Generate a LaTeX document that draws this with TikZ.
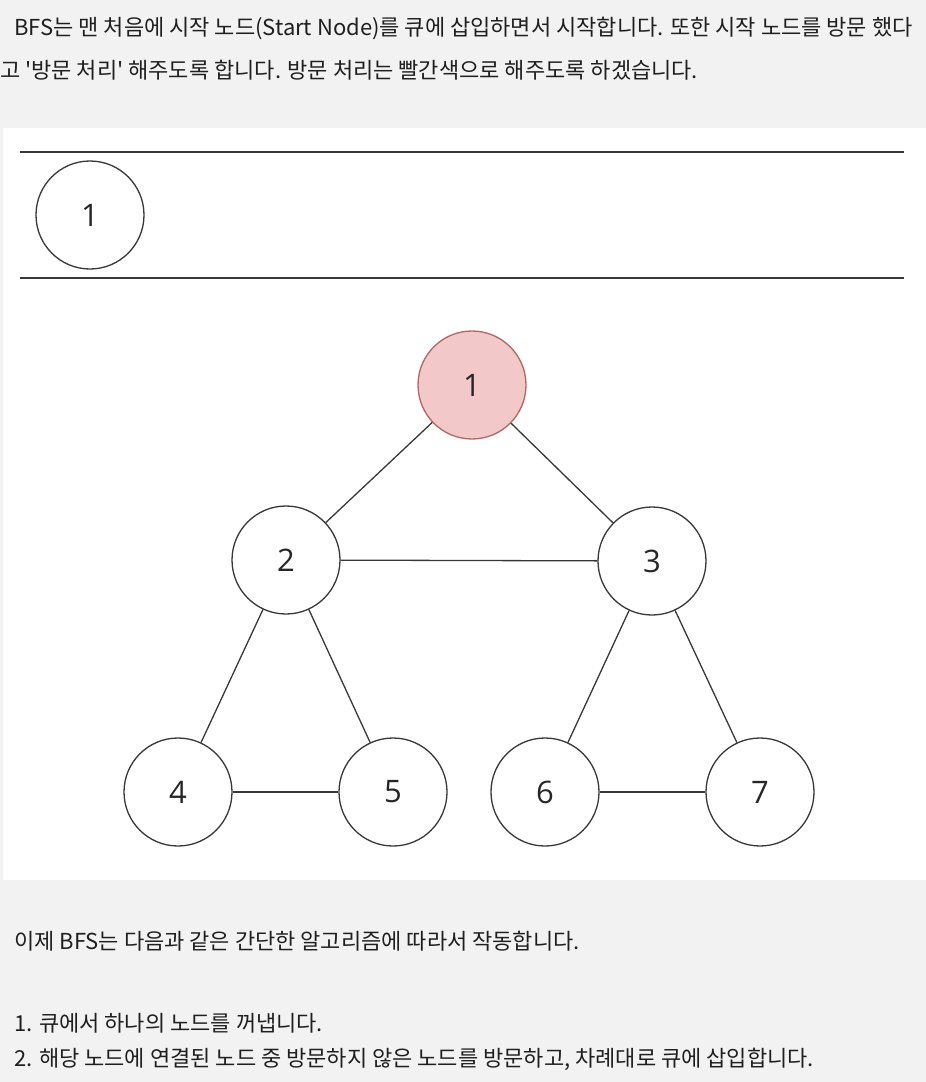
\documentclass[tikz,border=0pt]{standalone}
\usepackage{fontspec}
\newfontfamily\krfont{Noto Sans CJK KR}
\newfontfamily\digitfont{Open Sans}
\begin{document}
\begin{tikzpicture}[x=1pt,y=-1pt,
  txt/.style={anchor=base west,inner sep=0pt,font=\krfont\fontsize{22}{26}\selectfont,text=black!88},
  gnode/.style={circle,draw=black!78,line width=1.3pt,fill=white,minimum size=108pt,inner sep=0pt,font=\digitfont\fontsize{31}{36}\selectfont,text=black!85},
  visited/.style={gnode,fill={rgb,255:red,242;green,200;blue,200},draw={rgb,255:red,184;green,100;blue,96}},
  edge/.style={draw=black!78,line width=1.3pt},
  qline/.style={draw=black!78,line width=2pt}]
\useasboundingbox (0,0) rectangle (926,1082);
\fill[black!5] (0,0) rectangle (926,1082);
\fill[white] (3,128) rectangle (926,880);
% text
\node[txt] (t1) at (14,35) {BFS는 맨 처음에 시작 노드(Start Node)를 큐에 삽입하면서 시작합니다. 또한 시작 노드를 방문 했다};
\node[txt] (t2) at (0,78) {고 '방문 처리' 해주도록 합니다. 방문 처리는 빨간색으로 해주도록 하겠습니다.};
% queue
\coordinate (qa) at (20,152);
\coordinate (qb) at (904,152);
\coordinate (qc) at (20,278);
\coordinate (qd) at (904,278);
\draw[qline] (qa) -- (qb);
\draw[qline] (qc) -- (qd);
\node[gnode] (q1) at (90,215) {1};
% graph
\node[visited] (n1) at (472,385) {1};
\node[gnode] (n2) at (286,560) {2};
\node[gnode] (n3) at (652,561) {3};
\node[gnode] (n4) at (178,792) {4};
\node[gnode] (n5) at (393,792) {5};
\node[gnode] (n6) at (545,792) {6};
\node[gnode] (n7) at (760,792) {7};
\draw[edge] (n1) -- (n2);
\draw[edge] (n1) -- (n3);
\draw[edge] (n2) -- (n3);
\draw[edge] (n2) -- (n4);
\draw[edge] (n2) -- (n5);
\draw[edge] (n3) -- (n6);
\draw[edge] (n3) -- (n7);
\draw[edge] (n4) -- (n5);
\draw[edge] (n6) -- (n7);
% bottom text
\node[txt] (t3) at (14,949) {이제 BFS는 다음과 같은 간단한 알고리즘에 따라서 작동합니다.};
\node[txt] (t4) at (14,1031) {1. 큐에서 하나의 노드를 꺼냅니다.};
\node[txt] (t5) at (14,1066) {2. 해당 노드에 연결된 노드 중 방문하지 않은 노드를 방문하고, 차례대로 큐에 삽입합니다.};
\end{tikzpicture}
\end{document}
